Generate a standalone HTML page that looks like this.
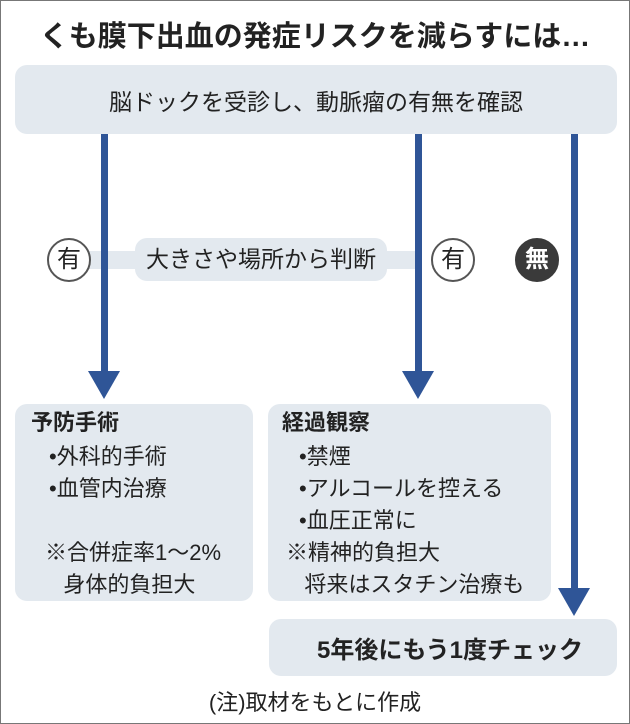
<!DOCTYPE html>
<html><head><meta charset="utf-8"><style>
body{margin:0;background:#fff}
#c{position:relative;width:628px;height:722px;border:1px solid #777;overflow:hidden;font-family:"Liberation Sans","Noto Sans CJK JP",sans-serif;color:#222}
.a{position:absolute}
.box{position:absolute;background:#e3e9ef;border-radius:12px}
.ln{position:absolute;background:#2f5597;width:7px}
.tri{position:absolute;width:0;height:0;border-left:16px solid transparent;border-right:16px solid transparent;border-top:28px solid #2f5597}
.cir{position:absolute;width:40px;height:40px;border-radius:50%;border:2px solid #555;background:#fff;text-align:center;line-height:40px;font-size:24px}
.t{font-size:22px;line-height:32px;white-space:nowrap}
</style></head><body><div id="c">
<div class="a" style="left:0;width:628px;top:12px;text-align:center;font-size:29px;font-weight:bold;letter-spacing:0px;white-space:nowrap">くも膜下出血の発症リスクを減らすには…</div>
<div class="box" style="left:14px;top:64px;width:602px;height:69px"></div>
<div class="a" style="left:14px;width:602px;top:82px;text-align:center;font-size:23px">脳ドックを受診し、動脈瘤の有無を確認</div>
<div class="a" style="left:88px;top:250px;width:330px;height:18px;background:#e3e9ef"></div>
<div class="ln" style="left:100px;top:133px;height:240px"></div>
<div class="ln" style="left:414px;top:133px;height:240px"></div>
<div class="ln" style="left:570px;top:133px;height:458px"></div>
<div class="tri" style="left:87px;top:370px"></div>
<div class="tri" style="left:401px;top:370px"></div>
<div class="tri" style="left:557px;top:587px"></div>
<div class="cir" style="left:46px;top:237px">有</div>
<div class="cir" style="left:430px;top:237px">有</div>
<div class="cir" style="left:514px;top:237px;background:#3a3a3a;border-color:#3a3a3a;color:#fff;font-weight:bold">無</div>
<div class="a" style="left:134px;top:237px;width:252px;height:43px;background:#e3e9ef;border-radius:12px;text-align:center;line-height:43px;font-size:23px;white-space:nowrap">大きさや場所から判断</div>
<div class="box" style="left:14px;top:403px;width:238px;height:197px"></div>
<div class="a t" style="left:30px;top:406px;font-weight:bold;font-size:22px">予防手術</div>
<div class="a t" style="left:48px;top:440px">•外科的手術<br>•血管内治療</div>
<div class="a t" style="left:44px;top:536px">※合併症率1～2%<br>&nbsp;&nbsp;&nbsp;身体的負担大</div>
<div class="box" style="left:267px;top:403px;width:283px;height:197px"></div>
<div class="a t" style="left:281px;top:406px;font-weight:bold;font-size:22px">経過観察</div>
<div class="a t" style="left:298px;top:440px">•禁煙<br>•アルコールを控える<br>•血圧正常に</div>
<div class="a t" style="left:285px;top:536px">※精神的負担大<br>&nbsp;&nbsp;&nbsp;将来はスタチン治療も</div>
<div class="box" style="left:268px;top:618px;width:348px;height:57px"></div>
<div class="a" style="left:316px;top:629px;font-size:24px;font-weight:bold;white-space:nowrap">5年後にもう1度チェック</div>
<div class="a" style="left:0;width:628px;top:684px;text-align:center;font-size:22px">(注)取材をもとに作成</div>
</div></body></html>
